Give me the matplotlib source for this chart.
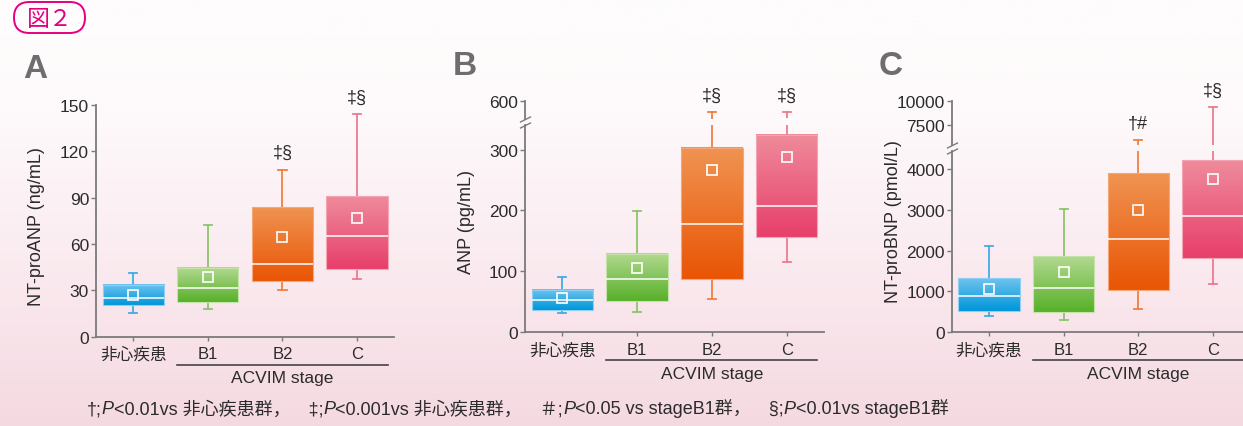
import matplotlib
matplotlib.use('Agg')
import matplotlib.pyplot as plt
import numpy as np
from matplotlib.colors import LinearSegmentedColormap
from matplotlib.patches import FancyBboxPatch
from matplotlib.transforms import blended_transform_factory

# data
groups = ['非心疾患', 'B1', 'B2', 'C']

ntproanp_whislo = [15.3, 17.9, 30.0, 37.1]
ntproanp_q1 = [20.3, 22.2, 36.3, 44.0]
ntproanp_med = [24.8, 31.7, 46.8, 65.2]
ntproanp_mean = [27.2, 38.9, 64.3, 76.8]
ntproanp_q3 = [33.5, 44.5, 83.7, 90.9]
ntproanp_whishi = [41.0, 72.5, 108.0, 144.0]
ntproanp_sig = ['', '', '‡§', '‡§']

anp_whislo = [31.3, 33.5, 53.8, 116.0]
anp_q1 = [35.7, 50.5, 86.7, 157.0]
anp_med = [53.2, 86.7, 178.0, 208.0]
anp_mean = [55.4, 105.0, 267.0, 288.0]
anp_q3 = [69.7, 129.0, 303.0, 325.0]
anp_whishi = [90.0, 199.0, 441.0, 441.0]
anp_sig = ['', '', '‡§', '‡§']

ntprobnp_whislo = [408, 310, 580, 1184]
ntprobnp_q1 = [530, 506, 1045, 1829]
ntprobnp_med = [890, 1078, 2294, 2841]
ntprobnp_mean = [1053, 1478, 3004, 3747]
ntprobnp_q3 = [1322, 1861, 3902, 4220]
ntprobnp_whishi = [2114, 3029, 5890, 9315]
ntprobnp_sig = ['', '', '†#', '‡§']

# colours: (top, bottom, whisker, edge)
box_colors = [
    ('#6ec3ee', '#0096da', '#45ace3', '#8fd0f2'),
    ('#b2d98f', '#58b02a', '#8cc66b', '#c4e3a8'),
    ('#f09352', '#e95504', '#f08040', '#f4a877'),
    ('#ef8b9b', '#e73f6b', '#ec7b92', '#f3a5b3'),
]
spine_color = '#7a7a7a'
text_color = '#2b2b2b'
magenta = '#e4007f'

W, H = 1243, 427
plt.rcParams['font.family'] = ['Liberation Sans', 'Noto Sans CJK JP']
plt.rcParams['text.color'] = text_color


def rect(left, right, top, bottom):
    return [left / W, 1 - bottom / H, (right - left) / W, (bottom - top) / H]


def fy(y):
    return 1 - y / H


def make_stats(whislo, q1, med, mean, q3, whishi):
    return [dict(whislo=a, q1=b, med=c, mean=d, q3=e, whishi=f, fliers=[])
            for a, b, c, d, e, f in zip(whislo, q1, med, mean, q3, whishi)]


def draw_boxes(ax, stats):
    res = ax.bxp(stats, positions=range(len(stats)), widths=0.82, patch_artist=True,
                 showmeans=True, showfliers=False, capwidths=0.11,
                 medianprops=dict(color='white', linewidth=1.1),
                 meanprops=dict(marker='s', markerfacecolor='none', markeredgecolor='white',
                                markersize=6.5, markeredgewidth=1.2))
    for i, s in enumerate(stats):
        top, bottom, wcol, ecol = box_colors[i]
        cmap = LinearSegmentedColormap.from_list('g%d' % i, [bottom, top])
        ax.imshow(np.linspace(0, 1, 64)[:, None], extent=(i - 0.41, i + 0.41, s['q1'], s['q3']),
                  aspect='auto', cmap=cmap, origin='lower', zorder=2.1)
        box = res['boxes'][i]
        box.set_facecolor('none')
        box.set_edgecolor(ecol)
        box.set_linewidth(0.8)
        box.set_zorder(2.2)
        for ln in res['whiskers'][2 * i:2 * i + 2] + res['caps'][2 * i:2 * i + 2]:
            ln.set_color(wcol)
            ln.set_linewidth(1.3)
        res['medians'][i].set_zorder(3)
        res['means'][i].set_zorder(3)


def style_axes(ax, ylim, yticks):
    ax.set_facecolor('none')
    ax.set_xlim(-0.5, 3.5)
    ax.set_ylim(*ylim)
    ax.set_yticks(yticks)
    for s in ['top', 'right']:
        ax.spines[s].set_visible(False)
    for s in ['left', 'bottom']:
        ax.spines[s].set_color(spine_color)
        ax.spines[s].set_linewidth(1.3)
    ax.tick_params(axis='y', direction='out', length=3.5, width=1, color=spine_color,
                   labelsize=12.5, pad=1.5, labelcolor=text_color)
    ax.tick_params(axis='x', direction='out', length=3, width=1, color=spine_color,
                   labelsize=12, pad=4, labelcolor=text_color)


def bottom_decor(ax, line_y, text_y):
    ax.set_xticks(range(len(groups)))
    ax.set_xticklabels(groups)
    trans = blended_transform_factory(ax.transData, fig.transFigure)
    ax.plot([1 - 0.41, 3 + 0.41], [fy(line_y), fy(line_y)], transform=trans,
            color='#444444', lw=1.2, clip_on=False)
    ax.text(2, fy(text_y), 'ACVIM stage', transform=trans, ha='center', va='center', fontsize=12.5)


def add_sig(ax, stats, sig):
    for i, (s, lab) in enumerate(zip(stats, sig)):
        if lab:
            ax.annotate(lab, xy=(i, s['whishi']), xytext=(0, 12.5), textcoords='offset points',
                        ha='center', va='center', fontsize=13, annotation_clip=False)


def break_marks(lower, upper):
    kw = dict(marker=[(-1, -0.5), (1, 0.5)], markersize=8, linestyle='none',
              color=spine_color, mec=spine_color, mew=1, clip_on=False)
    lower.plot([0], [1], transform=lower.transAxes, **kw)
    upper.plot([0], [0], transform=upper.transAxes, **kw)


fig = plt.figure(figsize=(W / 100, H / 100), dpi=100)

bg = fig.add_axes([0, 0, 1, 1], zorder=-10)
bg_cmap = LinearSegmentedColormap.from_list('bg', [(0, '#f5d9e1'), (0.45, '#fbeef2'), (0.75, '#fefafb'), (1, '#fefdfd')])
bg.imshow(np.linspace(0, 1, 256)[:, None], aspect='auto', cmap=bg_cmap, extent=[0, 1, 0, 1], origin='lower')
bg.set_xlim(0, 1)
bg.set_ylim(0, 1)
bg.axis('off')

# figure tag
tag = FancyBboxPatch((0.14, (H - 34) / 100), 0.71, 0.31, boxstyle='round,pad=0,rounding_size=0.155',
                     transform=fig.dpi_scale_trans, facecolor='none', edgecolor=magenta, lw=1.4)
fig.add_artist(tag)
fig.text(50 / W, fy(19), '図２', color=magenta, fontsize=16.5, ha='center', va='center')

# panel A
stats_a = make_stats(ntproanp_whislo, ntproanp_q1, ntproanp_med, ntproanp_mean, ntproanp_q3, ntproanp_whishi)
ax_a = fig.add_axes(rect(96, 394.3, 106, 337.7))
draw_boxes(ax_a, stats_a)
style_axes(ax_a, (0, 150), [0, 30, 60, 90, 120, 150])
bottom_decor(ax_a, 365.7, 379)
add_sig(ax_a, stats_a, ntproanp_sig)
fig.text(37 / W, fy(227), 'NT-proANP (ng/mL)', rotation=90, ha='center', va='center', fontsize=13)
fig.text(35 / W, fy(70), 'A', fontsize=24, fontweight='bold', color='#6e6e6e', ha='center', va='center')

# panel B
stats_b = make_stats(anp_whislo, anp_q1, anp_med, anp_mean, anp_q3, anp_whishi)
ax_b = fig.add_axes(rect(525, 824, 125.5, 333))
ax_b2 = fig.add_axes(rect(525, 824, 101.7, 120))
for ax in (ax_b, ax_b2):
    draw_boxes(ax, stats_b)
style_axes(ax_b, (0, 341.5), [0, 100, 200, 300])
style_axes(ax_b2, (350, 600), [600])
ax_b2.spines['bottom'].set_visible(False)
ax_b2.tick_params(axis='x', bottom=False, labelbottom=False)
bottom_decor(ax_b, 361, 375)
add_sig(ax_b2, stats_b, anp_sig)
break_marks(ax_b, ax_b2)
fig.text(466.7 / W, fy(222), 'ANP (pg/mL)', rotation=90, ha='center', va='center', fontsize=13)
fig.text(465 / W, fy(66.7), 'B', fontsize=24, fontweight='bold', color='#6e6e6e', ha='center', va='center')

# panel C
stats_c = make_stats(ntprobnp_whislo, ntprobnp_q1, ntprobnp_med, ntprobnp_mean, ntprobnp_q3, ntprobnp_whishi)
ax_c = fig.add_axes(rect(951.7, 1250.2, 151.7, 333.3))
ax_c2 = fig.add_axes(rect(951.7, 1250.2, 101.7, 146))
for ax in (ax_c, ax_c2):
    draw_boxes(ax, stats_c)
style_axes(ax_c, (0, 4450), [0, 1000, 2000, 3000, 4000])
style_axes(ax_c2, (5400, 10000), [7500, 10000])
ax_c2.spines['bottom'].set_visible(False)
ax_c2.tick_params(axis='x', bottom=False, labelbottom=False)
bottom_decor(ax_c, 361, 375)
add_sig(ax_c2, stats_c, ntprobnp_sig)
break_marks(ax_c, ax_c2)
fig.text(893.3 / W, fy(221.7), 'NT-proBNP (pmol/L)', rotation=90, ha='center', va='center', fontsize=13)
fig.text(891 / W, fy(67), 'C', fontsize=24, fontweight='bold', color='#6e6e6e', ha='center', va='center')

# footnote, italic P pieces chained
pieces = [('†;', 'normal'), ('P', 'italic'), ('<0.01vs 非心疾患群，　‡;', 'normal'), ('P', 'italic'),
          ('<0.001vs 非心疾患群，　＃;', 'normal'), ('P', 'italic'),
          ('<0.05 vs stageB1群，　§;', 'normal'), ('P', 'italic'), ('<0.01vs stageB1群', 'normal')]
prev = bg.text(87 / W, fy(410), pieces[0][0], transform=bg.transAxes, va='center', ha='left', fontsize=13)
for s, style in pieces[1:]:
    prev = bg.annotate(s, xy=(1, 0), xycoords=prev, va='bottom', ha='left', fontsize=13, fontstyle=style)

fig.savefig('out.png', dpi=100)
